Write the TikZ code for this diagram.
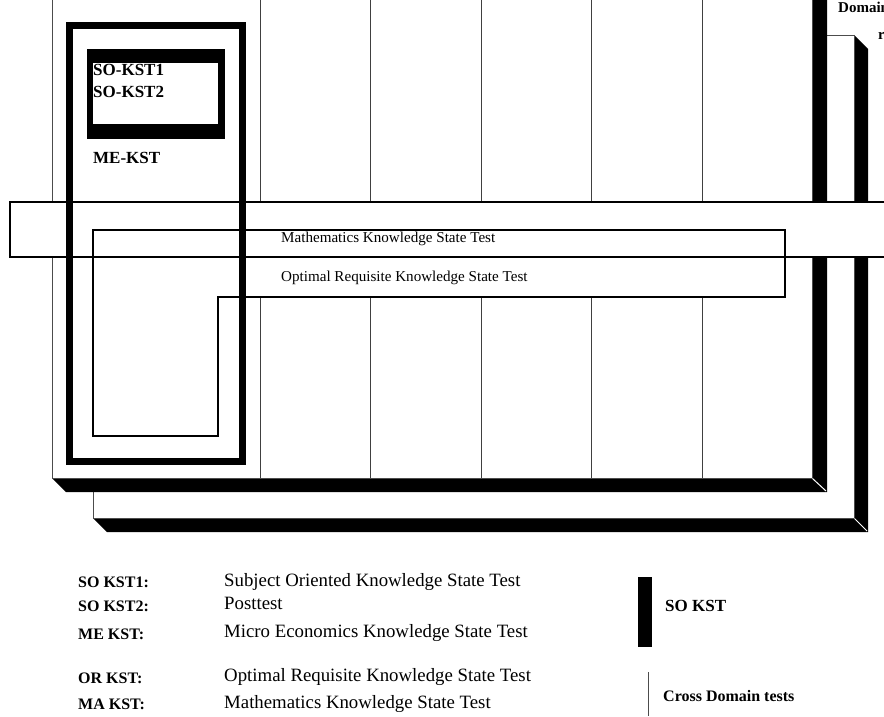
\documentclass[tikz,border=0pt]{standalone}
\usepackage{fontspec}
\setmainfont{Liberation Serif}
\begin{document}
\begin{tikzpicture}[x=1pt,y=-1pt,
  cardface/.style={fill=white, draw=black!70, line width=0.8pt},
  cardshade/.style={fill=black},
  edgeglint/.style={draw=white, line width=1pt},
  gridline/.style={draw=black!75, line width=0.9pt},
  bandbox/.style={fill=white, draw=black, line width=1.3pt},
  testbox/.style={draw=black, line width=1.5pt},
  thickbox/.style={draw=black, line width=7pt},
  lbl/.style={inner sep=0pt, anchor=base west, font=\fontsize{16}{19}\selectfont\bfseries},
  desc/.style={inner sep=0pt, anchor=base west, font=\fontsize{18.8}{21}\selectfont},
  bandtxt/.style={inner sep=0pt, anchor=base west, font=\fontsize{15.1}{17}\selectfont},
  cardtxt/.style={inner sep=0pt, anchor=base west, font=\fontsize{17}{20}\selectfont\bfseries}]
\useasboundingbox (0,0) rectangle (884,717);

% text of a card further behind (cut off)
\node[bandtxt, font=\fontsize{15}{17}\selectfont\bfseries] (dom) at (838,12.5) {Domain};
\node[bandtxt, font=\fontsize{15}{17}\selectfont\bfseries] (rr) at (878,40) {r};

% back card
\fill[cardshade] (854,35) -- (868,49) -- (868,532) -- (107,532) -- (93,518) -- (854,518) -- cycle;
\draw[cardface] (93,35) rectangle (854,518);
\draw[edgeglint] (854.5,518.5) -- (867,531);

% front card
\fill[cardshade] (812,-40) -- (827,-40) -- (827,492) -- (66,492) -- (52,478) -- (812,478) -- cycle;
\draw[cardface] (52,-40) rectangle (812,478);
\draw[edgeglint] (812.5,478.5) -- (826,491);
\foreach \gx in {260,370,481,591,702} \draw[gridline] (\gx,-10) -- (\gx,478);

% cross domain band
\fill[white] (10,202) rectangle (900,257);
\fill[white] (93,230) -- (785,230) -- (785,297) -- (218,297) -- (218,436) -- (93,436) -- cycle;
\draw[bandbox, fill=none] (10,202) rectangle (900,257);
\draw[line width=2.2pt] (10,257) -- (688,257);
\draw[testbox] (93,230) -- (785,230) -- (785,297) -- (218,297) -- (218,436) -- (93,436) -- cycle;
\node[bandtxt] (ma) at (281,242) {Mathematics Knowledge State Test};
\node[bandtxt] (or) at (281,281) {Optimal Requisite Knowledge State Test};

% ME-KST box with SO-KST box
\draw[thickbox] (69,25.5) rectangle (242,461.3);
\fill[black] (86.7,49.3) rectangle (225,139.3);
\fill[white] (93.3,62.7) rectangle (218.3,124);
\node[cardtxt] (so1) at (93,75.5) {SO-KST1};
\node[cardtxt] (so2) at (93,97.5) {SO-KST2};
\node[cardtxt] (me) at (93,163.5) {ME-KST};

% legend
\node[lbl] (l1) at (78,587) {SO KST1:};
\node[lbl] (l2) at (78,611) {SO KST2:};
\node[lbl] (l3) at (78,639) {ME KST:};
\node[lbl] (l4) at (78,683) {OR KST:};
\node[lbl] (l5) at (78,709) {MA KST:};
\node[desc] (d1) at (224,586) {Subject Oriented Knowledge State Test};
\node[desc] (d2) at (224,609) {Posttest};
\node[desc] (d3) at (224,637) {Micro Economics Knowledge State Test};
\node[desc] (d4) at (224,681) {Optimal Requisite Knowledge State Test};
\node[desc] (d5) at (224,708) {Mathematics Knowledge State Test};

\fill[black] (638,577) rectangle (652,647);
\node[lbl, font=\fontsize{17}{20}\selectfont\bfseries] (k1) at (665,611) {SO KST};
\draw[draw=black!70, line width=1pt] (648,672) -- (648,716);
\node[lbl] (k2) at (663,701) {Cross Domain tests};
\end{tikzpicture}
\end{document}
